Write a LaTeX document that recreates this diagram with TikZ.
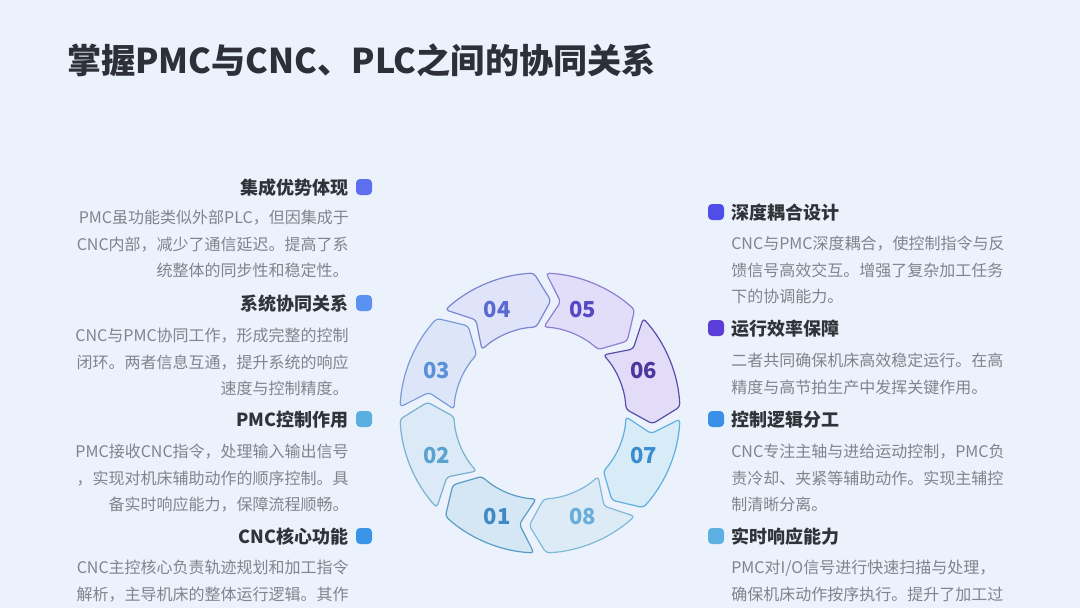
\documentclass[tikz,border=0pt]{standalone}
\usepackage{fontspec}
\setmainfont{Noto Sans CJK SC}
\usepackage{xcolor}
\usetikzlibrary{calc}
\definecolor{bgc}{HTML}{EBF2FC}
\definecolor{titlec}{HTML}{2D3038}
\definecolor{headc}{HTML}{303338}
\definecolor{bodyc}{HTML}{80848C}
% ring colours: fill, draw, text
\definecolor{f01}{HTML}{D5E7F5}\definecolor{d01}{HTML}{5B9CC4}\definecolor{t01}{HTML}{3F8AC4}
\definecolor{f02}{HTML}{DBEAF6}\definecolor{d02}{HTML}{7AB0D0}\definecolor{t02}{HTML}{5AA2D0}
\definecolor{f03}{HTML}{DCE6F8}\definecolor{d03}{HTML}{7A9AD8}\definecolor{t03}{HTML}{5A90D8}
\definecolor{f04}{HTML}{DFE4FA}\definecolor{d04}{HTML}{7A86D0}\definecolor{t04}{HTML}{5A6AD0}
\definecolor{f05}{HTML}{E2DEFA}\definecolor{d05}{HTML}{8A80D0}\definecolor{t05}{HTML}{5548C0}
\definecolor{f06}{HTML}{E2DCF8}\definecolor{d06}{HTML}{5A4EA8}\definecolor{t06}{HTML}{4A38A0}
\definecolor{f07}{HTML}{D8ECF8}\definecolor{d07}{HTML}{60AEE0}\definecolor{t07}{HTML}{3A8ED0}
\definecolor{f08}{HTML}{DCEBF6}\definecolor{d08}{HTML}{80B8D8}\definecolor{t08}{HTML}{6AACD8}

\begin{document}
\begin{tikzpicture}[x=0.75pt,y=-0.75pt]
\tikzstyle{sq}=[rounded corners=3pt,minimum size=12pt,inner sep=0pt]
\tikzstyle{head}=[font=\bfseries\fontsize{13.5}{16}\selectfont,text=headc,inner sep=0pt]
\tikzstyle{body}=[font=\fontsize{12}{19.9}\selectfont,text=bodyc,inner sep=0pt]
\tikzstyle{num}=[font=\bfseries\fontsize{16.5}{18}\selectfont,inner sep=0pt]
\tikzstyle{segm}=[line width=0.9pt,rounded corners=2.5pt]

\fill[bgc] (0,0) rectangle (1080,608);
\useasboundingbox (0,0) rectangle (1080,608);

\node[font=\bfseries\fontsize{25.6}{30}\selectfont,text=titlec,anchor=west,inner sep=0pt] (title) at (67,60) {掌握PMC与CNC、PLC之间的协同关系};

% ring
\coordinate (c) at (540,413);
\def\seg#1#2{%
\filldraw[segm,fill=f#2,draw=d#2] ($(c)+(#1-20:140)$) arc[start angle=#1-20,end angle=#1+20,radius=140]
 -- ($(c)+(#1+28:113)$) -- ($(c)+(#1+20:86)$) arc[start angle=#1+20,end angle=#1-20,radius=86]
 -- ($(c)+(#1-12:113)$) -- cycle;
\node[num,text=t#2] (s#2) at ($(c)+(#1:112)$) {#2};
}
\seg{112.5}{01}
\seg{157.5}{02}
\seg{202.5}{03}
\seg{247.5}{04}
\seg{292.5}{05}
\seg{337.5}{06}
\seg{22.5}{07}
\seg{67.5}{08}

% left
\node[sq,fill={rgb,255:red,93;green,111;blue,240}] (q1) at (364,187) {};
\node[head,anchor=east] (h1) at (349,188) {集成优势体现};
\node[body,anchor=north east,align=right] (b1) at (349,210) {PMC虽功能类似外部PLC，但因集成于\\CNC内部，减少了通信延迟。提高了系\\统整体的同步性和稳定性。};

\node[sq,fill={rgb,255:red,91;green,146;blue,242}] (q2) at (364,303) {};
\node[head,anchor=east] (h2) at (349,304) {系统协同关系};
\node[body,anchor=north east,align=right] (b2) at (349,328) {CNC与PMC协同工作，形成完整的控制\\闭环。两者信息互通，提升系统的响应\\速度与控制精度。};

\node[sq,fill={rgb,255:red,90;green,174;blue,224}] (q3) at (364,419) {};
\node[head,anchor=east] (h3) at (349,420) {PMC控制作用};
\node[body,anchor=north east,align=right] (b3) at (349,444) {PMC接收CNC指令，处理输入输出信号\\，实现对机床辅助动作的顺序控制。具\\备实时响应能力，保障流程顺畅。};

\node[sq,fill={rgb,255:red,58;green,149;blue,230}] (q4) at (364,536) {};
\node[head,anchor=east] (h4) at (349,537) {CNC核心功能};
\node[body,anchor=north east,align=right] (b4) at (349,560) {CNC主控核心负责轨迹规划和加工指令\\解析，主导机床的整体运行逻辑。其作};

% right
\node[sq,fill={rgb,255:red,79;green,78;blue,232}] (q5) at (716,212) {};
\node[head,anchor=west] (h5) at (731,213) {深度耦合设计};
\node[body,anchor=north west,align=left] (b5) at (731,236) {CNC与PMC深度耦合，使控制指令与反\\馈信号高效交互。增强了复杂加工任务\\下的协调能力。};

\node[sq,fill={rgb,255:red,91;green,63;blue,216}] (q6) at (716,328) {};
\node[head,anchor=west] (h6) at (731,329) {运行效率保障};
\node[body,anchor=north west,align=left] (b6) at (731,353) {二者共同确保机床高效稳定运行。在高\\精度与高节拍生产中发挥关键作用。};

\node[sq,fill={rgb,255:red,58;green,143;blue,230}] (q7) at (716,419) {};
\node[head,anchor=west] (h7) at (731,420) {控制逻辑分工};
\node[body,anchor=north west,align=left] (b7) at (731,444) {CNC专注主轴与进给运动控制，PMC负\\责冷却、夹紧等辅助动作。实现主辅控\\制清晰分离。};

\node[sq,fill={rgb,255:red,90;green,176;blue,224}] (q8) at (716,536) {};
\node[head,anchor=west] (h8) at (731,537) {实时响应能力};
\node[body,anchor=north west,align=left] (b8) at (731,560) {PMC对I/O信号进行快速扫描与处理，\\确保机床动作按序执行。提升了加工过};
\end{tikzpicture}
\end{document}
